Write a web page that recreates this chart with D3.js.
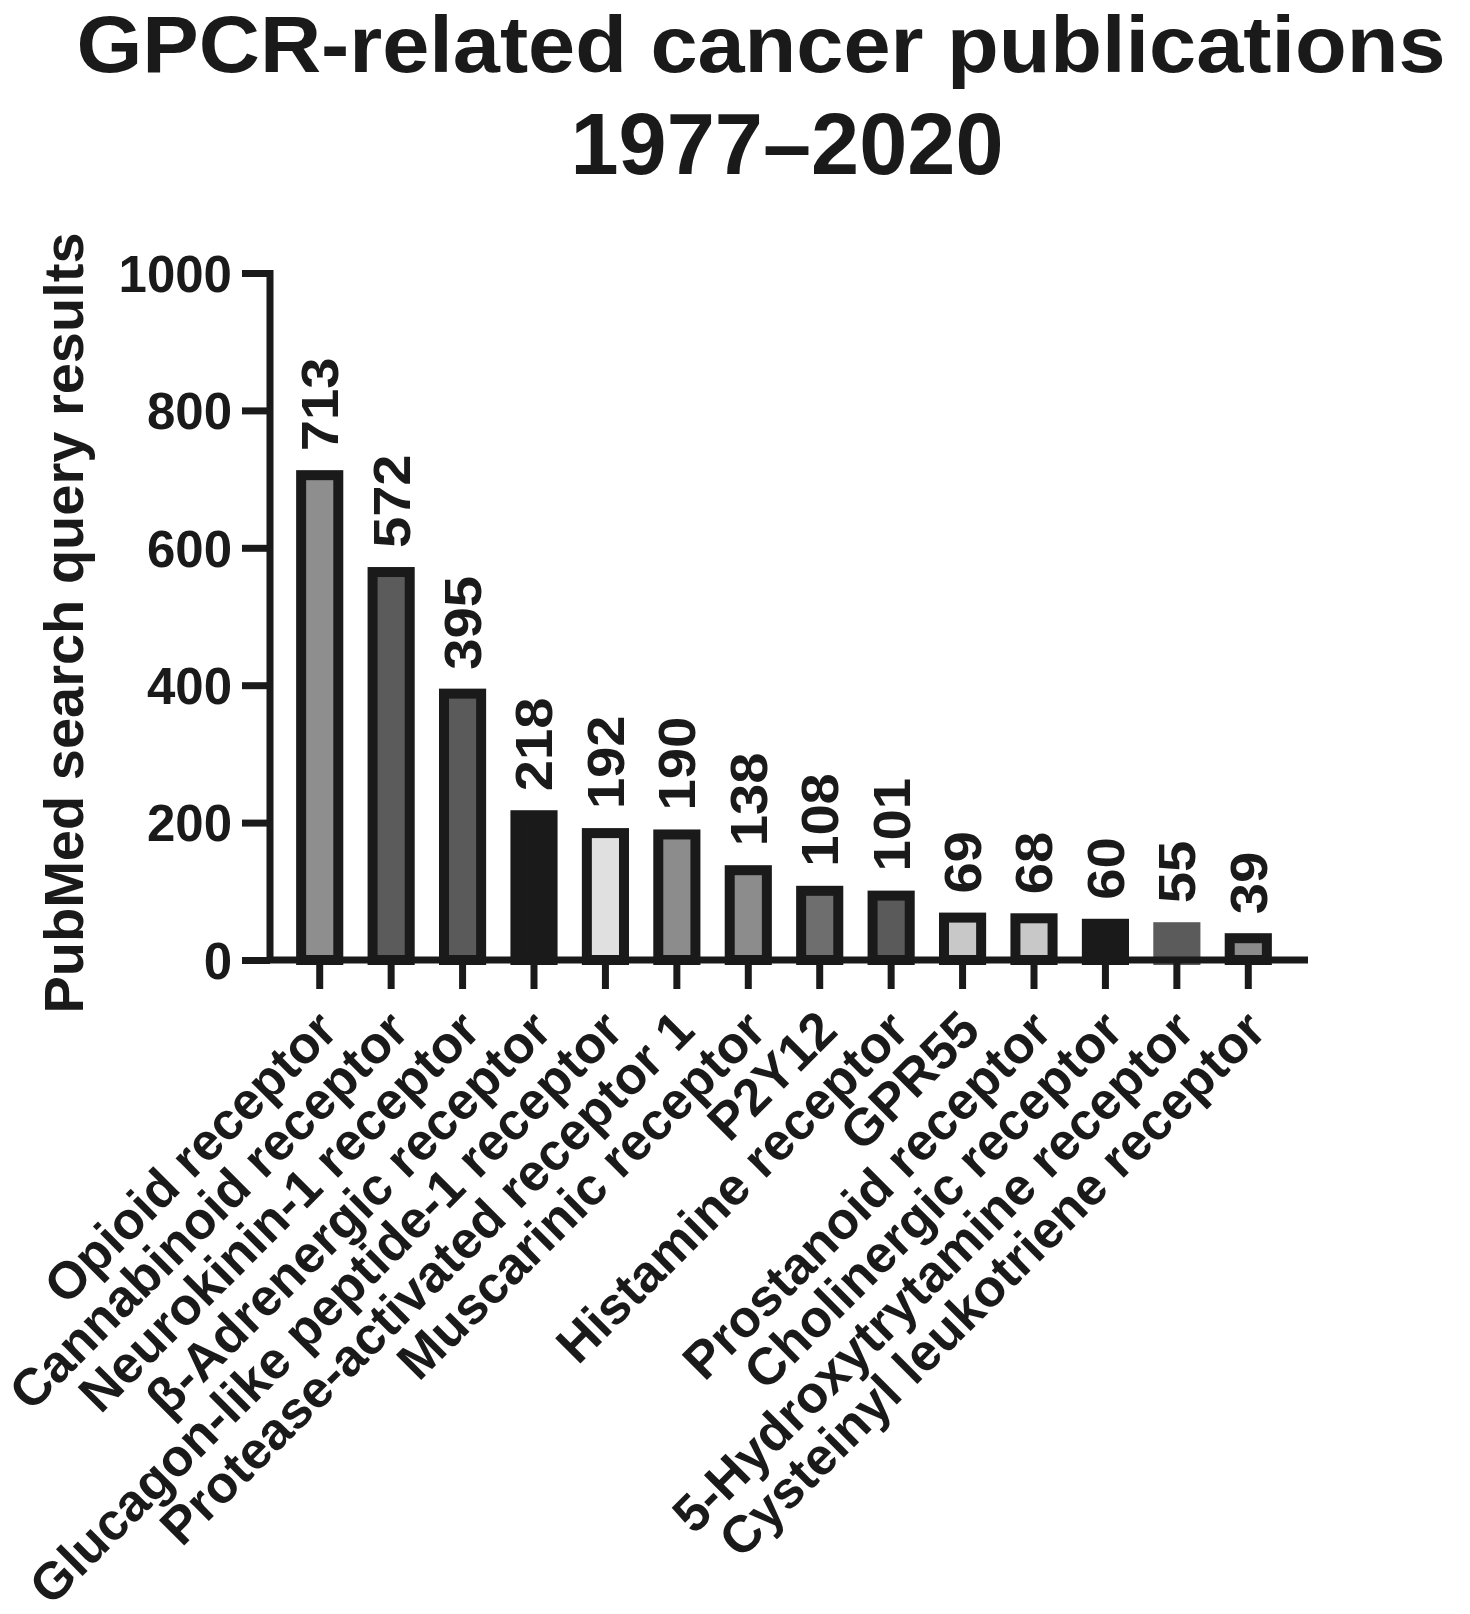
<!DOCTYPE html>
<html>
<head>
    <style>
        html,
        body {
            width: 100%;
            height: 100%;
            margin: 0;
            padding: 0;
            overflow: hidden;
            background: #fff;
        }
        text {
            font-family: "Liberation Sans", Arial, sans-serif;
            font-weight: bold;
            fill: #1a1a1a;
        }
    </style>
</head>
<body>
<script src="https://cdn.jsdelivr.net/npm/d3@7"></script>
<script>
    // Data
    const receptors = [
        "Opioid receptor",
        "Cannabinoid receptor",
        "Neurokinin-1 receptor",
        "β-Adrenergic receptor",
        "Glucagon-like peptide-1 receptor",
        "Protease-activated receptor 1",
        "Muscarinic receptor",
        "P2Y12",
        "Histamine receptor",
        "GPR55",
        "Prostanoid receptor",
        "Cholinergic receptor",
        "5-Hydroxytrytamine receptor",
        "Cysteinyl leukotriene receptor"
    ];
    const publications = [713, 572, 395, 218, 192, 190, 138, 108, 101, 69, 68, 60, 55, 39];
    const yTicks = [0, 200, 400, 600, 800, 1000];

    // grey shade of each bar (style only)
    const barFills = ["#8e8e8e", "#5b5b5b", "#5a5a5a", "#1a1a1a", "#e0e0e0", "#8c8c8c", "#8c8c8c",
        "#6e6e6e", "#5a5a5a", "#c8c8c8", "#c8c8c8", "#1a1a1a", "#5b5b5b", "#8c8c8c"];
    const barStrokes = barFills.map((c, i) => i === 12 ? c : "#1a1a1a"); // 5-HT bar has no dark rim

    const width = 1470;
    const height = 1614;
    const ink = "#1a1a1a";
    const axisX = 270;     // y axis line
    const axisY = 960;     // baseline (value 0)
    const border = 10;     // bar outline

    const svg = d3.select("body")
        .append("svg")
        .attr("width", width)
        .attr("height", height);

    const x = d3.scaleBand()
        .domain(receptors)
        .range([284, 1284])
        .paddingInner(0.34)
        .paddingOuter(0.17);

    const y = d3.scaleLinear()
        .domain([0, 1000])
        .range([axisY, 273]);

    // Title
    svg.append("text")
        .attr("x", 761)
        .attr("y", 72)
        .attr("text-anchor", "middle")
        .attr("textLength", 1369)
        .attr("lengthAdjust", "spacingAndGlyphs")
        .style("font-size", "80px")
        .text("GPCR-related cancer publications");
    svg.append("text")
        .attr("x", 787)
        .attr("y", 174)
        .attr("text-anchor", "middle")
        .attr("textLength", 433)
        .attr("lengthAdjust", "spacingAndGlyphs")
        .style("font-size", "87px")
        .text("1977–2020");

    // Bars, outline drawn inside the value box
    svg.selectAll("rect.bar")
        .data(publications)
        .join("rect")
        .attr("class", "bar")
        .attr("x", (d, i) => x(receptors[i]) + border / 2)
        .attr("y", d => y(d) + border / 2)
        .attr("width", x.bandwidth() - border)
        .attr("height", d => axisY - y(d) - border / 2)
        .attr("fill", (d, i) => barFills[i])
        .attr("stroke", (d, i) => barStrokes[i])
        .attr("stroke-width", border);

    // Value labels above bars (slightly tall, as in the figure)
    svg.selectAll("text.value")
        .data(publications)
        .join("text")
        .attr("class", "value")
        .attr("transform", (d, i) => `translate(${x(receptors[i]) + x.bandwidth() / 2},${y(d) - 19}) rotate(-90) scale(1.1,1)`)
        .attr("dy", "0.36em")
        .style("font-size", "51px")
        .text(d => d);

    // Y axis
    const yAxis = d3.axisLeft(y)
        .tickValues(yTicks)
        .tickFormat(d3.format("d"))
        .tickSize(28)
        .tickPadding(10);
    const gy = svg.append("g")
        .attr("transform", `translate(${axisX},0)`)
        .call(yAxis);
    gy.select(".domain")
        .attr("d", `M0,${y(1000) - 3}V${axisY}`)
        .attr("stroke", ink)
        .attr("stroke-width", 7);
    gy.selectAll(".tick line").attr("stroke", ink).attr("stroke-width", 7);
    gy.selectAll(".tick text")
        .attr("dy", "0.36em")
        .style("font-size", "51px")
        .style("font-family", null);

    // X axis
    const xAxis = d3.axisBottom(x)
        .tickSize(29)
        .tickFormat("");
    const gx = svg.append("g")
        .attr("transform", `translate(0,${axisY})`)
        .call(xAxis);
    gx.select(".domain")
        .attr("d", `M${axisX - 3},0H1308`)
        .attr("stroke", ink)
        .attr("stroke-width", 7);
    gx.selectAll(".tick line").attr("stroke", ink).attr("stroke-width", 7);

    // Rotated category labels
    svg.selectAll("text.cat")
        .data(receptors)
        .join("text")
        .attr("class", "cat")
        .attr("text-anchor", "end")
        .attr("transform", d => `translate(${x(d) + x.bandwidth() / 2 + 20},${axisY + 73}) rotate(-45)`)
        .style("font-size", "52px")
        .text(d => d);

    // Y axis title
    svg.append("text")
        .attr("transform", `translate(83,623) rotate(-90)`)
        .attr("text-anchor", "middle")
        .style("font-size", "56px")
        .text("PubMed search query results");
</script>
</body>
</html>
